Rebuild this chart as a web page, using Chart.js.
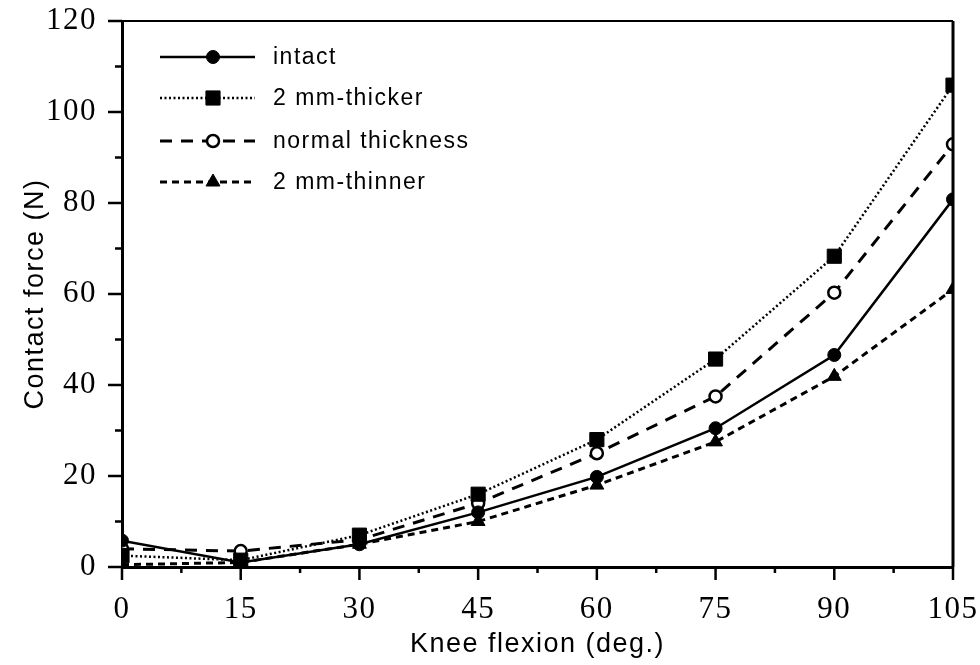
<!DOCTYPE html>
<html>
<head>
<meta charset="utf-8">
<script src="https://cdn.jsdelivr.net/npm/chart.js@4.4.1/dist/chart.umd.min.js"></script>
<style>
  body { margin: 0; background: #fff; }
  canvas { display: block; }
</style>
</head>
<body>
<canvas id="chart" width="980" height="665"></canvas>
<script>
// knee flexion angles (deg.)
const flexion = [0, 15, 30, 45, 60, 75, 90, 105];

// contact force (N)
const intact  = [5.8, 1.0, 5.0, 12.0, 19.8, 30.5, 46.6, 80.8];
const thicker = [2.5, 1.5, 7.0, 16.0, 28.0, 45.7, 68.3, 105.9];
const normal  = [4.0, 3.5, 6.0, 14.0, 25.0, 37.5, 60.3, 92.9];
const thinner = [0.5, 1.0, 5.0, 10.0, 18.0, 27.5, 41.9, 61.0];

const seriesNames = ['intact', '2 mm-thicker', 'normal thickness', '2 mm-thinner'];

const xMajor = [0, 15, 30, 45, 60, 75, 90, 105];
const xMinor = [7.5, 22.5, 37.5, 52.5, 67.5, 82.5, 97.5];
const yMajor = [0, 20, 40, 60, 80, 100, 120];
const yMinor = [10, 30, 50, 70, 90, 110];

const pts = arr => flexion.map((x, i) => ({ x: x, y: arr[i] }));

// tick marks, frame and the line+marker legend
const paperPlugin = {
  id: 'paper',
  beforeDraw(chart) {
    chart.ctx.letterSpacing = '1.5px';
  },
  afterDraw(chart) {
    const ctx = chart.ctx;
    const a = chart.chartArea;
    const xs = chart.scales.x, ys = chart.scales.y;
    ctx.save();
    ctx.strokeStyle = '#000';
    ctx.lineWidth = 2.5;
    ctx.beginPath();
    yMajor.forEach(v => { const p = ys.getPixelForValue(v); ctx.moveTo(a.left - 14, p); ctx.lineTo(a.left, p); });
    yMinor.forEach(v => { const p = ys.getPixelForValue(v); ctx.moveTo(a.left - 7, p); ctx.lineTo(a.left, p); });
    xMajor.forEach(v => { const p = xs.getPixelForValue(v); ctx.moveTo(p, a.bottom); ctx.lineTo(p, a.bottom + 13); });
    xMinor.forEach(v => { const p = xs.getPixelForValue(v); ctx.moveTo(p, a.bottom); ctx.lineTo(p, a.bottom + 6); });
    ctx.stroke();
    // top and right of the frame
    ctx.beginPath();
    ctx.lineWidth = 2;
    ctx.moveTo(a.left, a.top);
    ctx.lineTo(a.right, a.top);
    ctx.stroke();
    ctx.beginPath();
    ctx.lineWidth = 3;
    ctx.moveTo(a.right, a.top);
    ctx.lineTo(a.right, a.bottom);
    ctx.stroke();

    // legend
    const rows = [57, 98, 141, 182];
    ctx.font = '23px "Liberation Sans"';
    ctx.textBaseline = 'middle';
    ctx.fillStyle = '#000';
    chart.data.datasets.forEach((ds, i) => {
      const y = rows[i];
      ctx.save();
      ctx.strokeStyle = ds.borderColor;
      ctx.lineWidth = ds.borderWidth;
      ctx.setLineDash(ds.borderDash || []);
      ctx.beginPath();
      ctx.moveTo(160, y);
      ctx.lineTo(255, y);
      ctx.stroke();
      ctx.restore();
      ctx.save();
      ctx.fillStyle = ds.pointBackgroundColor;
      ctx.strokeStyle = ds.pointBorderColor;
      ctx.lineWidth = ds.pointBorderWidth;
      Chart.helpers.drawPoint(ctx, { pointStyle: ds.pointStyle, rotation: 0, radius: ds.pointRadius, borderWidth: ds.pointBorderWidth }, 213, y);
      ctx.restore();
      ctx.fillText(ds.label, 273, y + 1);
    });
    ctx.restore();
  }
};

const common = { borderColor: '#000', pointBorderColor: '#000', fill: false, tension: 0 };

new Chart(document.getElementById('chart'), {
  type: 'line',
  data: {
    datasets: [
      Object.assign({}, common, {
        label: seriesNames[0], data: pts(intact),
        borderWidth: 2.5, borderDash: [],
        pointStyle: 'circle', pointRadius: 6.5, pointBackgroundColor: '#000', pointBorderWidth: 1
      }),
      Object.assign({}, common, {
        label: seriesNames[1], data: pts(thicker),
        borderWidth: 2.5, borderDash: [2, 2.5],
        pointStyle: 'rect', pointRadius: 10, pointBackgroundColor: '#000', pointBorderWidth: 1
      }),
      Object.assign({}, common, {
        label: seriesNames[2], data: pts(normal),
        borderWidth: 3, borderDash: [12, 9],
        pointStyle: 'circle', pointRadius: 6, pointBackgroundColor: '#fff', pointBorderWidth: 2.5
      }),
      Object.assign({}, common, {
        label: seriesNames[3], data: pts(thinner),
        borderWidth: 3, borderDash: [7, 5],
        pointStyle: 'triangle', pointRadius: 8, pointBackgroundColor: '#000', pointBorderWidth: 1
      })
    ]
  },
  options: {
    responsive: false,
    animation: false,
    devicePixelRatio: 1,
    layout: { padding: 0 },
    plugins: { legend: { display: false }, tooltip: { enabled: false } },
    scales: {
      x: {
        type: 'linear', min: 0, max: 105,
        afterFit: s => { s.height = 98; s.paddingLeft = 0; s.paddingRight = 27; },
        grid: { display: false, drawTicks: false },
        border: { display: true, color: '#000', width: 3 },
        ticks: { stepSize: 15, padding: 24, color: '#000', font: { family: 'Liberation Serif', size: 31 } },
        title: { display: true, text: 'Knee flexion (deg.)', color: '#000', padding: { top: 0, bottom: 4 },
                 font: { family: 'Liberation Sans', size: 27 } }
      },
      y: {
        type: 'linear', min: 0, max: 120,
        afterFit: s => { s.width = 122; s.paddingTop = 21; s.paddingBottom = 0; },
        grid: { display: false, drawTicks: false },
        border: { display: true, color: '#000', width: 3 },
        ticks: { stepSize: 20, padding: 25, color: '#000', font: { family: 'Liberation Serif', size: 31 } },
        title: { display: true, text: 'Contact force (N)', color: '#000', padding: { top: 19, bottom: 0 },
                 font: { family: 'Liberation Sans', size: 27 } }
      }
    }
  },
  plugins: [paperPlugin]
});
</script>
</body>
</html>
